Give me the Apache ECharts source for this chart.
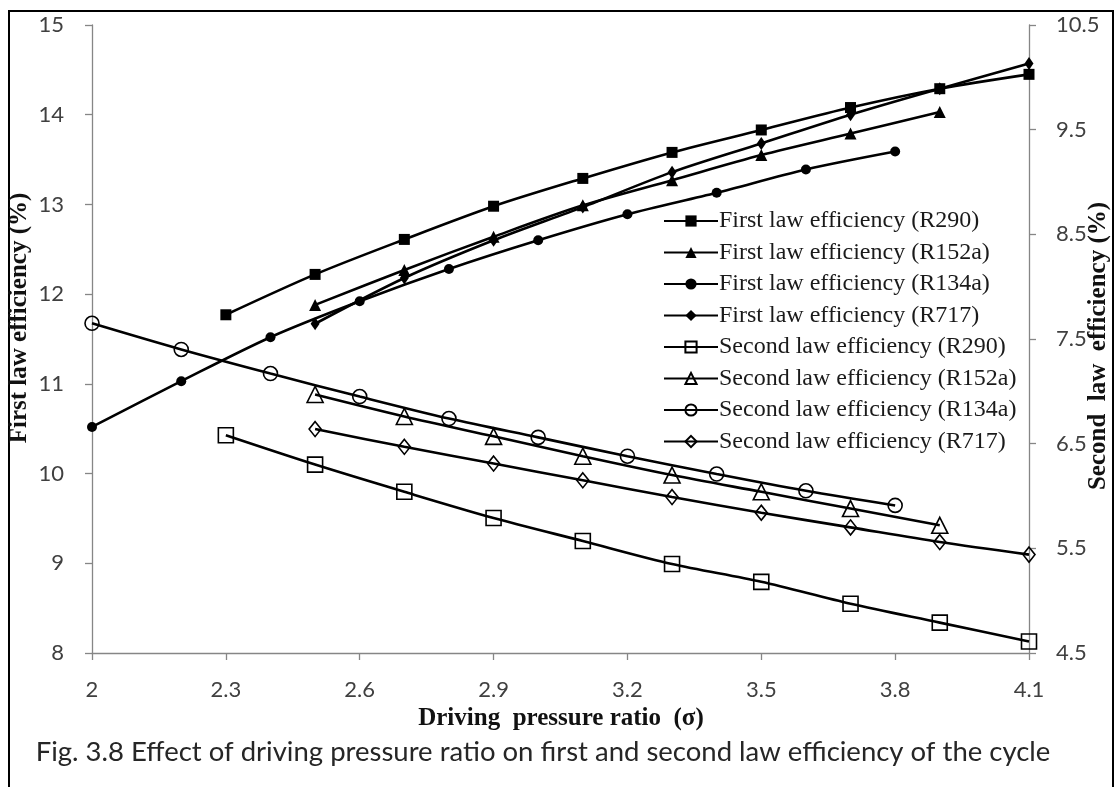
<!DOCTYPE html>
<html>
<head>
<meta charset="utf-8">
<title>Driving pressure ratio vs efficiency</title>
<script src="https://cdn.jsdelivr.net/npm/echarts@6/dist/echarts.min.js"></script>
<style>
    html, body { margin: 0; padding: 0; background: #fff; }
    #chartWrapper { width: 1115px; height: 787px; }
</style>
</head>
<body>
<div id="chartWrapper"></div>
<script>
// 驱动压力比 (x)
var xR290 = [2.3, 2.5, 2.7, 2.9, 3.1, 3.3, 3.5, 3.7, 3.9, 4.1];
var xR152a = [2.5, 2.7, 2.9, 3.1, 3.3, 3.5, 3.7, 3.9];
var xR134a = [2.0, 2.2, 2.4, 2.6, 2.8, 3.0, 3.2, 3.4, 3.6, 3.8];
var xR717 = [2.5, 2.7, 2.9, 3.1, 3.3, 3.5, 3.7, 3.9, 4.1];

// first law efficiency (%) - left axis
var firstR290 = [11.77, 12.22, 12.61, 12.98, 13.29, 13.58, 13.83, 14.08, 14.29, 14.45];
var firstR152a = [11.88, 12.27, 12.64, 12.99, 13.27, 13.55, 13.79, 14.03];
var firstR134a = [10.52, 11.03, 11.52, 11.92, 12.28, 12.60, 12.89, 13.13, 13.39, 13.59];
var firstR717 = [11.67, 12.18, 12.60, 12.97, 13.36, 13.68, 14.00, 14.29, 14.57];

// second law efficiency (%) - right axis
var secondR290 = [6.58, 6.30, 6.04, 5.79, 5.57, 5.35, 5.18, 4.97, 4.79, 4.61];
var secondR152a = [6.97, 6.76, 6.57, 6.38, 6.20, 6.04, 5.88, 5.72];
var secondR134a = [7.65, 7.40, 7.17, 6.95, 6.74, 6.56, 6.38, 6.21, 6.05, 5.91];
var secondR717 = [6.64, 6.47, 6.31, 6.15, 5.99, 5.84, 5.70, 5.56, 5.44];

var seriesNames = [
    'First law efficiency (R290)',
    'First law efficiency (R152a)',
    'First law efficiency (R134a)',
    'First law efficiency (R717)',
    'Second law efficiency (R290)',
    'Second law efficiency (R152a)',
    'Second law efficiency (R134a)',
    'Second law efficiency (R717)'
];

var axisFont = 'Lato, "Open Sans", sans-serif';
var serifFont = '"Liberation Serif", "DejaVu Serif", serif';

function pairs(xs, ys) {
    var out = [];
    for (var i = 0; i < xs.length; i++) {
        out.push([xs[i], ys[i]]);
    }
    return out;
}

function makeSeries(name, xs, ys, axisIdx, symbol, size, open) {
    return {
        name: name,
        type: 'line',
        yAxisIndex: axisIdx,
        data: pairs(xs, ys),
        smooth: 0.3,
        symbol: symbol,
        symbolSize: size,
        showAllSymbol: true,
        lineStyle: { color: '#000', width: 2.6 },
        itemStyle: open ? {
            color: 'rgba(255,255,255,0)',
            borderColor: '#000',
            borderWidth: 1.6
        } : {
            color: '#000',
            borderWidth: 0
        },
        emphasis: { disabled: true }
    };
}

var myChart = echarts.init(document.getElementById('chartWrapper'));

var option = {
    backgroundColor: '#fff',
    animation: false,
    grid: {
        left: 92,
        top: 25,
        right: 86,
        bottom: 134
    },
    legend: {
        orient: 'vertical',
        left: 658,
        top: 204,
        itemWidth: 54,
        itemHeight: 14,
        itemGap: 7.5,
        textStyle: {
            fontFamily: serifFont,
            fontSize: 24,
            lineHeight: 24,
            color: '#1a1a1a',
            padding: [0, 0, 0, -4]
        },
        data: seriesNames
    },
    xAxis: {
        type: 'value',
        min: 2,
        max: 4.1,
        interval: 0.3,
        axisLine: { onZero: false, lineStyle: { color: '#868686', width: 1.3 } },
        axisTick: { length: 7, lineStyle: { color: '#868686', width: 1.3 } },
        splitLine: { show: false },
        axisLabel: {
            margin: 26,
            fontFamily: axisFont,
            fontSize: 22,
            color: '#404040'
        }
    },
    yAxis: [{
        type: 'value',
        position: 'left',
        min: 8,
        max: 15,
        interval: 1,
        axisLine: { show: true, lineStyle: { color: '#868686', width: 1.3 } },
        axisTick: { show: true, length: 7, lineStyle: { color: '#868686', width: 1.3 } },
        splitLine: { show: false },
        axisLabel: {
            margin: 28,
            fontFamily: axisFont,
            fontSize: 22,
            color: '#404040'
        }
    }, {
        type: 'value',
        position: 'right',
        min: 4.5,
        max: 10.5,
        interval: 1,
        axisLine: { show: true, lineStyle: { color: '#868686', width: 1.3 } },
        axisTick: { show: true, length: 7, lineStyle: { color: '#868686', width: 1.3 } },
        splitLine: { show: false },
        axisLabel: {
            margin: 27,
            fontFamily: axisFont,
            fontSize: 22,
            color: '#404040',
            formatter: function(value) {
                return value.toFixed(1);
            }
        }
    }],
    graphic: [{
        // 外框
        type: 'rect',
        shape: { x: 9, y: 11, width: 1104, height: 820 },
        style: { fill: 'none', stroke: '#000', lineWidth: 2 },
        silent: true
    }, {
        type: 'text',
        x: 561,
        y: 719,
        style: {
            text: 'Driving  pressure ratio  (σ)',
            font: 'bold 25px ' + serifFont,
            fill: '#111',
            align: 'center',
            verticalAlign: 'middle'
        }
    }, {
        type: 'text',
        x: 20,
        y: 318,
        rotation: Math.PI / 2,
        style: {
            text: 'First law efficiency (%)',
            font: 'bold 25px ' + serifFont,
            fill: '#111',
            align: 'center',
            verticalAlign: 'middle'
        }
    }, {
        type: 'text',
        x: 1099,
        y: 346,
        rotation: Math.PI / 2,
        style: {
            text: 'Second  law  efficiency (%)',
            font: 'bold 25px ' + serifFont,
            fill: '#111',
            align: 'center',
            verticalAlign: 'middle'
        }
    }, {
        type: 'text',
        x: 543,
        y: 752,
        style: {
            text: 'Fig. 3.8 Effect of driving pressure ratio on first and second law efficiency of the cycle',
            font: '27.5px ' + axisFont,
            fill: '#262626',
            align: 'center',
            verticalAlign: 'middle'
        }
    }],
    series: [
        makeSeries(seriesNames[0], xR290, firstR290, 0, 'rect', 11, false),
        makeSeries(seriesNames[1], xR152a, firstR152a, 0, 'triangle', 12, false),
        makeSeries(seriesNames[2], xR134a, firstR134a, 0, 'circle', 10, false),
        makeSeries(seriesNames[3], xR717, firstR717, 0, 'diamond', [9, 13], false),
        makeSeries(seriesNames[4], xR290, secondR290, 1, 'rect', 15, true),
        makeSeries(seriesNames[5], xR152a, secondR152a, 1, 'triangle', 16, true),
        makeSeries(seriesNames[6], xR134a, secondR134a, 1, 'circle', 14, true),
        makeSeries(seriesNames[7], xR717, secondR717, 1, 'diamond', [12, 15], true)
    ]
};

myChart.setOption(option);
</script>
</body>
</html>
